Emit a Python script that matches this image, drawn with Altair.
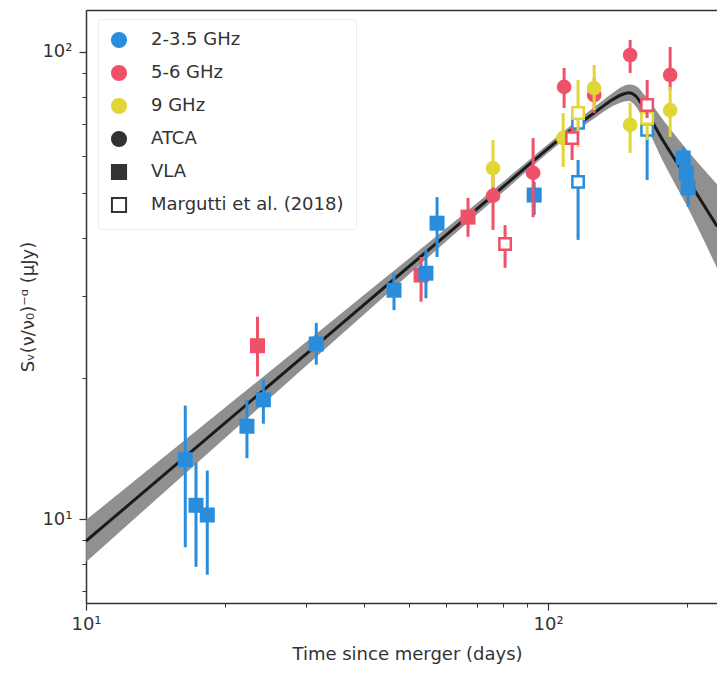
import altair as alt
import pandas as pd

BLUE = "#2a8ddc"
RED = "#ef5168"
YELLOW = "#e0d634"
DARK = "#333333"
BAND = "#8a8a8a"

# ---- model curve and uncertainty band ----
curve_t = [10, 31.6, 79.4, 112.2, 125.9, 138.0, 144.5, 149.6, 154.9, 162.2, 177.8, 199.5, 232.3]
curve_f = [8.97, 23.6, 51.2, 68.1, 74.1, 79.1, 81.1, 81.8, 80.4, 75.2, 64.3, 53.8, 42.3]
curve_lo = [8.09, 22.3, 49.9, 66.6, 72.1, 76.6, 78.1, 78.5, 76.4, 70.2, 58.0, 46.9, 34.4]
curve_hi = [9.95, 25.0, 52.5, 69.7, 76.2, 81.7, 84.2, 85.2, 84.6, 80.6, 71.3, 61.8, 52.0]

# ---- VLA 2-3.5 GHz (filled blue squares) ----
vla_b_t = [16.4, 17.3, 18.3, 22.3, 24.2, 31.5, 46.4, 54.4, 57.5, 93.3, 196, 199, 201]
vla_b_f = [13.4, 10.7, 10.2, 15.8, 18.0, 23.7, 30.9, 33.6, 43.0, 49.4, 59.3, 55.1, 51.2]
vla_b_lo = [8.7, 7.9, 7.6, 13.5, 16.0, 21.4, 28.0, 29.7, 36.4, 44.8, 55.9, 50.6, 46.6]
vla_b_hi = [17.5, 13.2, 12.7, 18.0, 19.9, 26.3, 33.6, 37.7, 48.9, 52.7, 62.6, 58.7, 54.5]

# ---- VLA 5-6 GHz (filled red squares) ----
vla_r_t = [23.5, 53.1, 67.1]
vla_r_f = [23.5, 33.3, 44.3]
vla_r_lo = [20.2, 29.2, 40.2]
vla_r_hi = [27.1, 36.4, 48.7]

# ---- ATCA 5.5 GHz (red circles) ----
atca_r_t = [76.0, 92.8, 108.3, 125.8, 150.5, 183.7]
atca_r_f = [49.2, 55.1, 84.2, 80.9, 98.5, 89.3]
atca_r_lo = [41.6, 44.3, 75.9, 74.0, 90.2, 82.9]
atca_r_hi = [55.9, 65.4, 92.4, 88.0, 106.1, 102.5]

# ---- ATCA 9 GHz (yellow circles) ----
atca_y_t = [76.0, 107.8, 125.8, 150.5, 183.7]
atca_y_f = [56.4, 65.4, 83.7, 69.8, 75.1]
atca_y_lo = [51.4, 56.7, 75.1, 60.8, 65.8]
atca_y_hi = [64.8, 74.0, 93.8, 77.8, 84.2]

# ---- Margutti et al. (2018) (open squares) ----
mar_b_t = [116.1, 116.1, 163.8]
mar_b_f = [52.7, 70.5, 68.1]
mar_b_lo = [39.6, 67.0, 53.2]
mar_b_hi = [58.7, 74.0, 71.5]

mar_y_t = [116.1, 163.8]
mar_y_f = [74.0, 72.2]
mar_y_lo = [62.6, 64.8]
mar_y_hi = [87.1, 80.9]

mar_r_t = [80.7, 112.7, 163.8]
mar_r_f = [38.8, 65.4, 77.0]
mar_r_lo = [34.5, 58.7, 72.2]
mar_r_hi = [42.6, 69.1, 87.1]

# ---- legend ----
legend_labels = ["2-3.5 GHz", "5-6 GHz", "9 GHz", "ATCA", "VLA", "Margutti et al. (2018)"]
legend_fills = [BLUE, RED, YELLOW, DARK, DARK, "white"]
legend_strokes = [BLUE, RED, YELLOW, DARK, DARK, DARK]
legend_shapes = ["circle", "circle", "circle", "circle", "square", "square"]

x_major = [10, 100]
x_minor = [20, 30, 40, 50, 60, 70, 80, 90, 200]
y_major = [10, 100]
y_minor = [7, 8, 9, 20, 30, 40, 50, 60, 70, 80, 90]

XDOM = [10, 232]
YDOM = [6.61, 123]
xs = alt.Scale(type="log", domain=XDOM, nice=False)
ys = alt.Scale(type="log", domain=YDOM, nice=False)
FONT = "DejaVu Sans"
TXT = "#333333"


def X(field, axis=None):
    return alt.X(field, type="quantitative", scale=xs, axis=axis)


def Y(field, axis=None):
    return alt.Y(field, type="quantitative", scale=ys, axis=axis)


curve = pd.DataFrame({"t": curve_t, "f": curve_f, "lo": curve_lo, "hi": curve_hi})

x_major_axis = alt.Axis(
    orient="bottom", values=x_major,
    labelExpr="datum.value == 10 ? '10¹' : '10²'",
    tickSize=7, tickWidth=1.2, tickColor=TXT, domain=True, domainColor=TXT, domainWidth=1.5,
    grid=False, labelFontSize=18, labelFont=FONT, labelColor=TXT, labelPadding=5,
    labelFlush=False, labelOverlap=False,
    title="Time since merger (days)", titleFont=FONT, titleFontSize=18,
    titleFontWeight="normal", titleColor=TXT, titleX=321, titlePadding=12,
)
x_minor_axis = alt.Axis(
    orient="bottom", values=x_minor, labels=False, tickSize=4, tickWidth=1,
    tickColor=TXT, domain=False, grid=False, title=None,
)
y_major_axis = alt.Axis(
    orient="left", values=y_major,
    labelExpr="datum.value == 10 ? '10¹' : '10²'",
    tickSize=7, tickWidth=1.2, tickColor=TXT, domain=True, domainColor=TXT, domainWidth=1.5,
    grid=False, labelFontSize=18, labelFont=FONT, labelColor=TXT, labelPadding=7,
    labelFlush=False, labelOverlap=False,
    title="Sᵥ(ν/ν₀)⁻ᵅ (μJy)", titleFont=FONT, titleFontSize=18,
    titleFontWeight="normal", titleColor=TXT, titlePadding=4,
)
y_minor_axis = alt.Axis(
    orient="left", values=y_minor, labels=False, tickSize=4, tickWidth=1,
    tickColor=TXT, domain=False, grid=False, title=None,
)
top_axis = alt.Axis(
    orient="top", domain=True, domainColor=TXT, domainWidth=1.5, ticks=False,
    labels=False, grid=False, title=None,
)

band = alt.Chart(curve).mark_area(color=BAND, opacity=0.95, interpolate="monotone", clip=True).encode(
    x=X("t", x_major_axis), y=Y("lo", y_major_axis), y2="hi"
)
line = alt.Chart(curve).mark_line(color="#1a1a1a", strokeWidth=3, interpolate="monotone", clip=True).encode(
    x=X("t", x_minor_axis), y=Y("f", y_minor_axis)
)


def series(t, f, lo, hi, color, kind):
    df = pd.DataFrame({"t": t, "f": f, "lo": lo, "hi": hi})
    err = alt.Chart(df).mark_rule(color=color, strokeWidth=3).encode(x=X("t"), y=Y("lo"), y2="hi")
    if kind == "sq":
        pt = alt.Chart(df).mark_point(shape="square", filled=True, size=225, color=color, opacity=1)
    elif kind == "circ":
        pt = alt.Chart(df).mark_point(shape="circle", filled=True, size=215, color=color, opacity=1)
    else:
        pt = alt.Chart(df).mark_point(shape="square", filled=False, fill="white", fillOpacity=1,
                                      stroke=color, strokeWidth=2.5, size=130, opacity=1)
    return [err, pt.encode(x=X("t"), y=Y("f"))]


layers = [band, line]
layers += series(vla_r_t, vla_r_f, vla_r_lo, vla_r_hi, RED, "sq")
layers += series(vla_b_t, vla_b_f, vla_b_lo, vla_b_hi, BLUE, "sq")
layers += series(atca_r_t, atca_r_f, atca_r_lo, atca_r_hi, RED, "circ")
layers += series(atca_y_t, atca_y_f, atca_y_lo, atca_y_hi, YELLOW, "circ")
layers += series(mar_b_t, mar_b_f, mar_b_lo, mar_b_hi, BLUE, "open")
layers += series(mar_y_t, mar_y_f, mar_y_lo, mar_y_hi, YELLOW, "open")
layers += series(mar_r_t, mar_r_f, mar_r_lo, mar_r_hi, RED, "open")

leg_df = pd.DataFrame({"label": legend_labels, "t": [10] * 6, "f": [10] * 6})
leg = alt.Legend(
    orient="none", legendX=12, legendY=9, title=None, labelFontSize=18, labelFont=FONT,
    labelColor=TXT, symbolSize=200, symbolStrokeWidth=2, rowPadding=9, padding=12,
    fillColor="white", strokeColor="#ececec", cornerRadius=3, labelOffset=23,
    symbolOpacity=1, labelLimit=400,
)
legend_layer = alt.Chart(leg_df).mark_point(filled=True, opacity=0).encode(
    x=X("t", top_axis),
    y=Y("f"),
    color=alt.Color("label:N", scale=alt.Scale(domain=legend_labels, range=legend_fills), legend=leg,
                    sort=legend_labels),
    stroke=alt.Stroke("label:N", scale=alt.Scale(domain=legend_labels, range=legend_strokes), legend=leg,
                      sort=legend_labels),
    shape=alt.Shape("label:N", scale=alt.Scale(domain=legend_labels, range=legend_shapes), legend=leg,
                    sort=legend_labels),
)
layers.append(legend_layer)

chart = (
    alt.layer(*layers)
    .resolve_axis(x="independent", y="independent")
    .properties(
        width=631, height=593,
        padding={"left": 78, "top": 2, "right": 0, "bottom": 63},
        autosize=alt.AutoSizeParams(type="none"),
        background="white",
    )
    .configure_view(stroke=None)
    .configure(font=FONT)
)

chart.save("out.html", embed_options={"renderer": "svg", "actions": False})
